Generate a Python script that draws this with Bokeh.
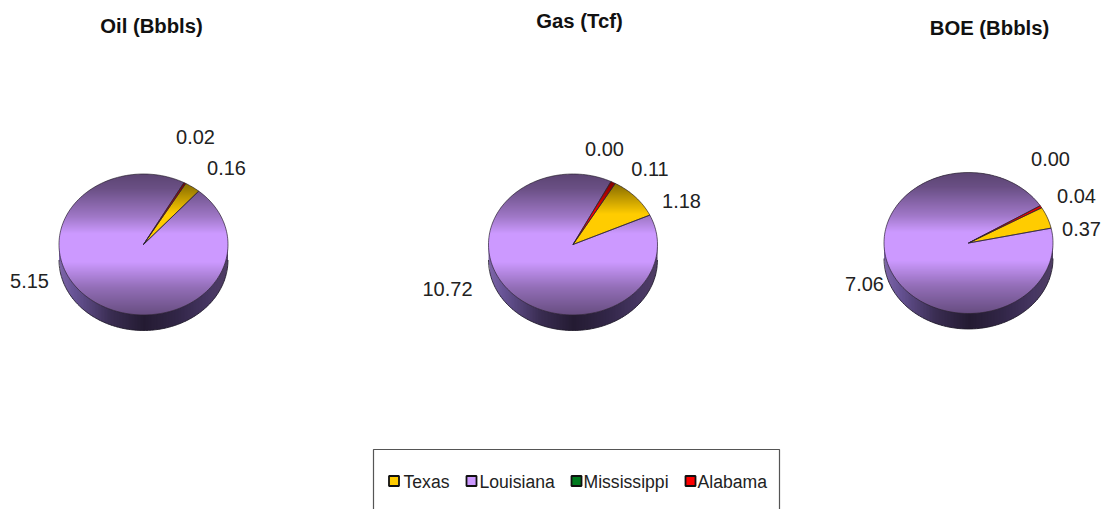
import numpy as np
from bokeh.plotting import figure
from bokeh.models import Range1d
from bokeh.embed import file_html
from bokeh.resources import INLINE
from bokeh.core.properties import value

# ---- data ----
states = ["Texas", "Louisiana", "Mississippi", "Alabama"]
oil_values = [0.16, 5.15, 0.00, 0.02]
gas_values = [1.18, 10.72, 0.00, 0.11]
boe_values = [0.37, 7.06, 0.00, 0.04]
titles = ["Oil (Bbbls)", "Gas (Tcf)", "BOE (Bbbls)"]

# ---- styles / layout ----
state_colors = ["#FFCC00", "#CC99FF", "#007A1E", "#FF0000"]
pies = [
    dict(values=oil_values, cx=143, cy=244, start=30, title_at=(151, 25.5),
         labels={0: (226, 167), 1: (29, 280), 3: (195, 136)}),
    dict(values=gas_values, cx=572.5, cy=244, start=30, title_at=(579, 20.5),
         labels={0: (681, 200), 1: (447, 288), 2: (604, 148), 3: (649.5, 168)}),
    dict(values=boe_values, cx=968, cy=242.5, start=60, title_at=(989, 27.5),
         labels={0: (1081, 228), 1: (864, 283), 2: (1050, 158), 3: (1076, 195)}),
]
RX, RY, DEPTH = 84.5, 70.5, 15.5
legend_swatch_x = [393.5, 471, 576, 690]
legend_text_x = [403, 479, 583, 697]


def hex_rgb(h):
    return np.array([int(h[i:i + 2], 16) for i in (1, 3, 5)], float)


def rgb_hex(c):
    return "#%02x%02x%02x" % tuple(int(round(min(255, max(0, v)))) for v in c)


def shade(color, t, state):
    m = np.interp(t, [0, .1, .3, .42, .62, .8, 1], [.45, .52, .78, 1, 1, .72, .5])
    if state != "Louisiana":
        m = np.interp(t, [0, .1, .28, 1], [.42, .6, 1, 1])
    return rgb_hex(hex_rgb(color) * m)


def clip(pts, y0, y1):
    def one(pts, keep, cross):
        out = []
        for i in range(len(pts)):
            a, b = pts[i], pts[(i + 1) % len(pts)]
            if keep(a):
                out.append(a)
            if keep(a) != keep(b):
                t = (cross - a[1]) / (b[1] - a[1])
                out.append((a[0] + t * (b[0] - a[0]), cross))
        return out
    r = one(pts, lambda q: q[1] >= y0, y0)
    return one(r, lambda q: q[1] <= y1, y1) if r else r


p = figure(width=1104, height=509, x_range=Range1d(0, 1104), y_range=Range1d(509, 0),
           output_backend="svg", toolbar_location=None, min_border=0, outline_line_color=None)
p.axis.visible = False
p.grid.visible = False
p.background_fill_color = "white"
p.border_fill_color = "white"

for pie in pies:
    cx, cy = pie["cx"], pie["cy"]
    vals = np.array(pie["values"], float)
    # side wall
    xs_s, ys_s, cols = [], [], []
    grad_t = [0, .08, .3, .5, .7, .88, 1]
    grad_r = [[126, 102, 168], [104, 84, 150], [58, 45, 82], [36, 27, 50], [50, 38, 72], [70, 54, 98], [80, 62, 100]]
    for x0 in np.arange(cx - RX, cx + RX, 1.5):
        x1 = min(x0 + 2, cx + RX)
        e = lambda x: cy + RY * np.sqrt(max(0, 1 - ((x - cx) / RX) ** 2))
        xs_s.append([x0, x1, x1, x0])
        ys_s.append([e(x0) - 2, e(x1) - 2, e(x1) + DEPTH, e(x0) + DEPTH])
        t = (x0 - (cx - RX)) / (2 * RX)
        cols.append(rgb_hex([np.interp(t, grad_t, [g[k] for g in grad_r]) for k in range(3)]))
    p.patches(xs_s, ys_s, fill_color=cols, line_color=None)
    # outer edge of the side wall
    th = np.linspace(np.pi / 2, -np.pi / 2, 80)
    p.line(cx + RX * np.sin(th), cy + DEPTH + RY * np.cos(th), line_color="#1c1626", line_width=0.8)
    # top face, sliced into shaded horizontal bands
    edges = np.radians(pie["start"] + np.concatenate([[0], np.cumsum(vals)]) / vals.sum() * 360)
    outlines = []
    for i, c in enumerate(state_colors):
        if vals[i] <= 0:
            continue
        a = np.linspace(edges[i], edges[i + 1], max(3, int(np.degrees(edges[i + 1] - edges[i]) / 2)))
        poly = [(cx, cy)] + [(cx + RX * np.sin(q), cy - RY * np.cos(q)) for q in a]
        outlines.append(poly)
        bx, by, bc = [], [], []
        for y in np.arange(cy - RY, cy + RY, 1.0):
            r = clip(poly, y, y + 1.6)
            if len(r) >= 3:
                bx.append([q[0] for q in r])
                by.append([q[1] for q in r])
                bc.append(shade(c, (y - (cy - RY)) / (2 * RY), states[i]))
        p.patches(bx, by, fill_color=bc, line_color=None)
    p.patches([[q[0] for q in o] for o in outlines], [[q[1] for q in o] for o in outlines],
              fill_color=None, line_color="#2a2230", line_width=0.8, line_alpha=0.85)
    # labels
    for i, (lx, ly) in pie["labels"].items():
        p.text([lx], [ly], text=[f"{vals[i]:.2f}"], text_font=value("Liberation Sans"),
               text_font_size="20px", text_color="#222222", text_align="center", text_baseline="middle")

# titles
for t, pie in zip(titles, pies):
    p.text([pie["title_at"][0]], [pie["title_at"][1]], text=[t], text_font=value("Liberation Sans"),
           text_font_style="bold", text_font_size="20.3px", text_color="#111111",
           text_align="center", text_baseline="middle")

# legend box (its bottom is cut off by the page)
p.line([373, 373, 779, 779], [509, 449, 449, 509], line_color="#555555", line_width=1.2)
p.rect(legend_swatch_x, [480.5] * 4, width=10, height=10, fill_color=state_colors,
       line_color="#111111", line_width=1.8)
p.text(legend_text_x, [481] * 4, text=states, text_font=value("Liberation Sans"), text_font_size="17.6px",
       text_color="#222222", text_align="left", text_baseline="middle")

open("out.html", "w").write(file_html(p, INLINE))
